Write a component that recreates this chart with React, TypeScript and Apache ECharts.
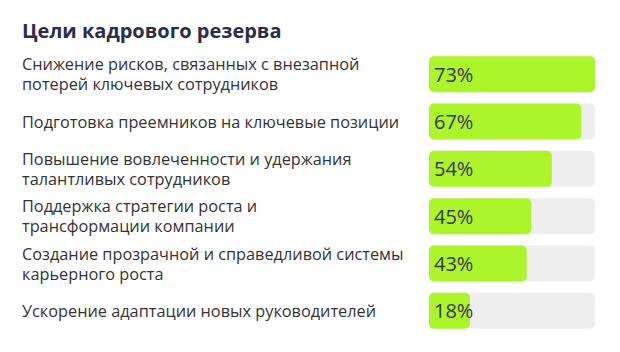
import React, { useEffect, useRef } from "react";
import * as echarts from "echarts";

const titleText = "Цели кадрового резерва";
const categories = [
  "Снижение рисков, связанных с внезапной\nпотерей ключевых сотрудников",
  "Подготовка преемников на ключевые позиции",
  "Повышение вовлеченности и удержания\nталантливых сотрудников",
  "Поддержка стратегии роста и\nтрансформации компании",
  "Создание прозрачной и справедливой системы\nкарьерного роста",
  "Ускорение адаптации новых руководителей",
];
const values = [73, 67, 54, 45, 43, 18];

const FONT = "'Open Sans', 'Noto Sans', sans-serif";

export default function App() {
  const ref = useRef<HTMLDivElement>(null);
  useEffect(() => {
    if (!ref.current) return;
    const chart = echarts.init(ref.current, null, { renderer: "svg" });
    chart.setOption({
      animation: false,
      backgroundColor: "#ffffff",
      title: {
        text: titleText,
        left: 22,
        top: 20,
        padding: 0,
        textStyle: {
          fontFamily: FONT,
          fontSize: 20,
          fontWeight: "bold",
          color: "#2b2d4b",
        },
      },
      grid: { left: 429, right: 25, top: 50.5, bottom: 17.5, containLabel: false },
      xAxis: {
        type: "value",
        min: 0,
        max: 73,
        show: false,
      },
      yAxis: {
        type: "category",
        data: categories,
        inverse: true,
        axisLine: { show: false },
        axisTick: { show: false },
        splitLine: { show: false },
        axisLabel: {
          align: "left",
          margin: 407,
          fontFamily: FONT,
          fontSize: 16.3,
          lineHeight: 20,
          color: "#333333",
        },
      },
      series: [
        {
          type: "bar",
          data: values,
          barWidth: 36,
          showBackground: true,
          backgroundStyle: { color: "#eeeeee", borderRadius: 5 },
          itemStyle: { color: "#adf52b", borderRadius: 5 },
          label: {
            show: true,
            position: "insideLeft",
            distance: 5,
            formatter: "{c}%",
            fontFamily: FONT,
            fontSize: 20,
            color: "#363646",
          },
        },
      ],
    });
    return () => chart.dispose();
  }, []);
  return (
    <div
      ref={ref}
      style={{ position: "fixed", left: 0, top: 0, width: 620, height: 352 }}
    />
  );
}
